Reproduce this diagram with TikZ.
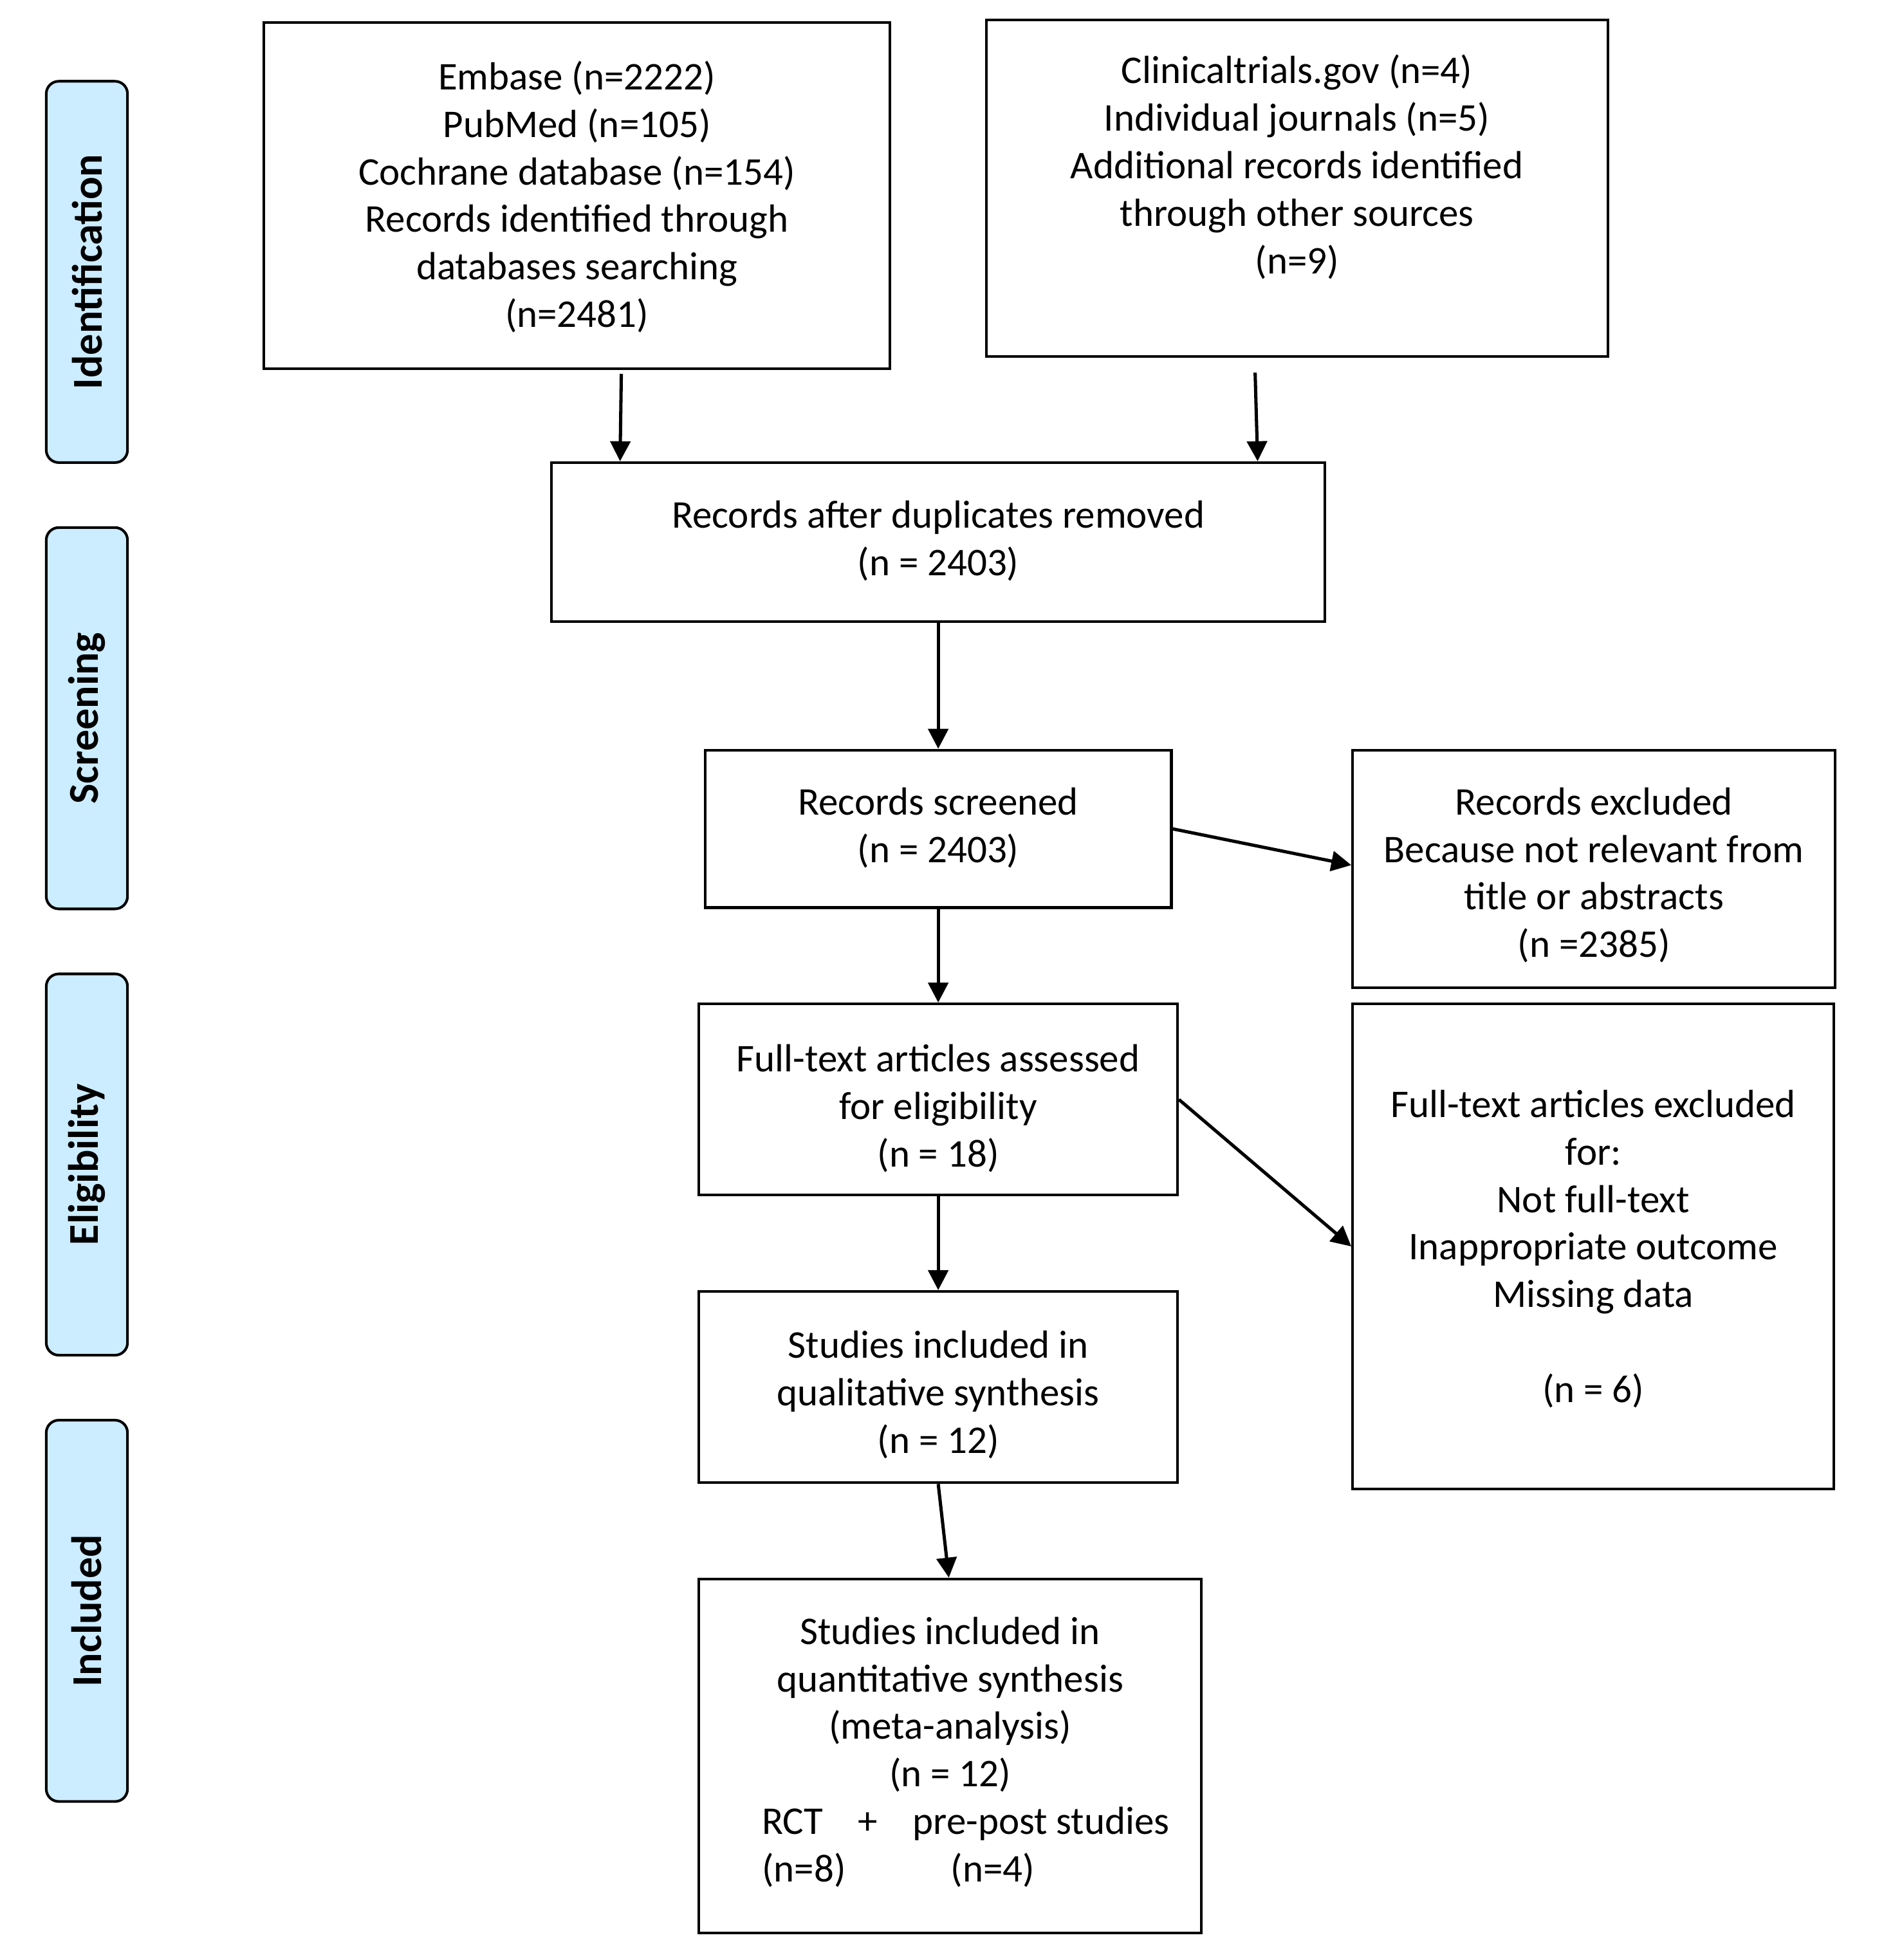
\documentclass[tikz,border=0pt]{standalone}
\usepackage{fontspec}
\setmainfont{Carlito}
\usetikzlibrary{arrows.meta,calc}
\definecolor{phaseblue}{RGB}{204,236,255}
\begin{document}
\begin{tikzpicture}[x=0.5pt,y=-0.5pt,
  box/.style={draw=black, line width=1.05pt, inner sep=0pt},
  txt/.style={align=center, inner sep=0pt, font=\fontsize{15.7}{19}\selectfont},
  phase/.style={draw=black, line width=1.05pt, fill=phaseblue, rounded corners=5pt,
    rotate=90, minimum width=152.5pt, minimum height=32.5pt, inner sep=0pt,
    font=\fontsize{17}{20}\selectfont\bfseries},
  arr/.style={line width=1.3pt, -{Triangle[length=8pt,width=8pt]}}]
\useasboundingbox (0,0) rectangle (1507,1567.8);

% phase labels
\node[phase] (pid) at (69.5,217.5) {Identification};
\node[phase] (psc) at (69.5,574.5) {Screening};
\node[phase] (pel) at (69.5,931.5) {Eligibility};
\node[phase] (pin) at (69.5,1288.5) {Included};

% boxes
\node[box, minimum width=250.5pt, minimum height=138.5pt] (db) at (461.5,156.5) {};
\node[box, minimum width=248.5pt, minimum height=134.5pt] (other) at (1037.5,150.5) {};
\node[box, minimum width=309.5pt, minimum height=63.5pt] (dup) at (750.5,433.5) {};
\node[box, minimum width=186.5pt, minimum height=63pt] (scr) at (750.5,663) {};
\node[box, minimum width=193pt, minimum height=95pt] (excl) at (1275,695) {};
\node[box, minimum width=191.5pt, minimum height=76.5pt] (ft) at (750.5,879.5) {};
\node[box, minimum width=192.5pt, minimum height=194pt] (ftex) at (1274.5,997) {};
\node[box, minimum width=191.5pt, minimum height=76.5pt] (qual) at (750.5,1109.5) {};
\node[box, minimum width=201pt, minimum height=141.5pt] (quant) at (760,1404.5) {};

% box texts
\node[txt] (dbT) at (461.5,157.5)
  {Embase (n=2222)\\PubMed (n=105)\\Cochrane database (n=154)\\Records identified through\\databases searching\\(n=2481)};
\node[txt] (otherT) at (1037.5,133.5)
  {Clinicaltrials.gov (n=4)\\Individual journals (n=5)\\Additional records identified\\through other sources\\(n=9)};
\node[txt] (dupT) at (750.5,432.5) {Records after duplicates removed\\(n = 2403)};
\node[txt] (scrT) at (750.5,662) {Records screened\\(n = 2403)};
\node[txt] (exclT) at (1275,700)
  {Records excluded\\Because not relevant from\\title or abstracts\\(n =2385)};
\node[txt] (ftT) at (750.5,886.5) {Full-text articles assessed\\for eligibility\\(n = 18)};
\node[txt] (ftexT) at (1274.5,999)
  {Full-text articles excluded\\for:\\Not full-text\\Inappropriate outcome\\Missing data\\ \mbox{}\\(n = 6)};
\node[txt] (qualT) at (750.5,1115.5) {Studies included in\\qualitative synthesis\\(n = 12)};
\node[txt] (quantT) at (760,1401.5)
  {Studies included in\\quantitative synthesis\\(meta-analysis)\\(n = 12)\\
   \hspace*{13pt}\makebox[163.5pt][l]{RCT\hspace{14pt}+\hspace{14pt}pre-post studies}\\
   \hspace*{13pt}\makebox[163.5pt][l]{(n=8)\hspace{42pt}(n=4)}};

% connectors
\draw[arr] ([shift={(35.5,3)}]db.south) -- ([shift={(-254.5,0)}]dup.north);
\draw[arr] ([shift={(-33.5,12)}]other.south) -- ([shift={(255.5,0)}]dup.north);
\draw[arr] (dup.south) -- (scr.north);
\draw[arr] (scr.east) -- ([shift={(0,-3)}]excl.west);
\draw[arr] (scr.south) -- (ft.north);
\draw[arr] (ft.east) -- (ftex.west);
\draw[arr] (ft.south) -- (qual.north);
\draw[arr] (qual.south) -- ([shift={(-1,0)}]quant.north);
\end{tikzpicture}
\end{document}
